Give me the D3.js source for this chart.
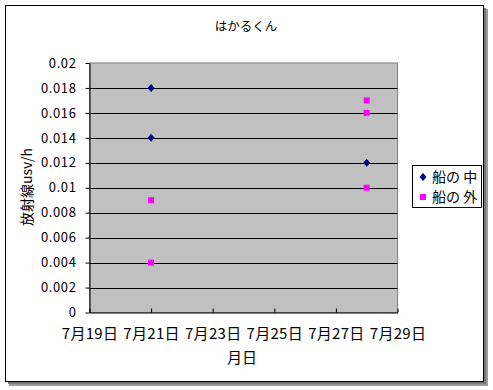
<!DOCTYPE html>
<html><head><meta charset="utf-8">
<script src="https://cdn.jsdelivr.net/npm/d3@7"></script>
<style>body{margin:0;background:#fff}svg{display:block}text{font-family:"Noto Sans CJK JP","Noto Sans",sans-serif;fill:#000}</style>
</head><body><div id="c"></div>
<script>
const title = "はかるくん";
const yLabel = "放射線usv/h";
const xLabel = "月日";
const seriesNames = ["船の 中", "船の 外"];
const insideDays = [21, 21, 28];
const insideValues = [0.018, 0.014, 0.012];
const outsideDays = [21, 21, 28, 28, 28];
const outsideValues = [0.009, 0.004, 0.017, 0.016, 0.010];
const xTicks = [19, 21, 23, 25, 27, 29];
const yTicks = [0, 0.002, 0.004, 0.006, 0.008, 0.01, 0.012, 0.014, 0.016, 0.018, 0.02];

const W = 493, H = 390;
const svg = d3.select("#c").append("svg").attr("width", W).attr("height", H);
// shadow
svg.append("rect").attr("x", 9).attr("y", 9).attr("width", 479).attr("height", 377).attr("fill", "#9a9a9a");
svg.append("rect").attr("x", 8).attr("y", 8).attr("width", 478).attr("height", 376).attr("fill", "#777");
svg.append("rect").attr("x", 5.5).attr("y", 5.5).attr("width", 478).attr("height", 376).attr("fill", "#fff").attr("stroke", "#000");

const L = 89.5, R = 397.5, T = 63, B = 312.5;
const x = d3.scaleLinear().domain([19, 29]).range([L, R]);
const y = d3.scaleLinear().domain([0, 0.02]).range([B, T]);

svg.append("rect").attr("x", L).attr("y", T).attr("width", R - L).attr("height", B - T)
  .attr("fill", "#c0c0c0").attr("stroke", "#808080");
svg.append("g").selectAll("line").data(yTicks.slice(1, -1)).join("line")
  .attr("x1", L).attr("x2", R).attr("y1", d => Math.round(y(d)) + 0.5).attr("y2", d => Math.round(y(d)) + 0.5)
  .attr("stroke", "#000");

const fmtY = d => d === 0 ? "0" : String(+d.toFixed(3));
const yAxis = svg.append("g").attr("transform", `translate(${L},0)`)
  .call(d3.axisLeft(y).tickValues(yTicks).tickSize(4).tickSizeOuter(0).tickFormat(fmtY).tickPadding(9));
const xAxis = svg.append("g").attr("transform", `translate(0,${B})`)
  .call(d3.axisBottom(x).tickValues(xTicks).tickSize(-4).tickSizeOuter(0).tickFormat(d => `7月${d}日`).tickPadding(16));
[yAxis, xAxis].forEach(g => {
  g.selectAll("path,line").attr("stroke", "#000");
});
yAxis.selectAll("text").attr("font-size", 13).attr("letter-spacing", 0.6);
xAxis.selectAll("text").attr("font-size", 15).attr("letter-spacing", 0.3);

// markers
const diamondType = { draw(ctx, size) { ctx.moveTo(0, -4); ctx.lineTo(3.5, 0); ctx.lineTo(0, 4); ctx.lineTo(-3.5, 0); ctx.closePath(); } };
const diamond = d3.symbol().type(diamondType);
svg.append("g").selectAll("path").data(insideDays.map((d, i) => [d, insideValues[i]])).join("path")
  .attr("d", diamond).attr("transform", d => `translate(${x(d[0])},${y(d[1])})`).attr("fill", "#000080");
svg.append("g").selectAll("rect").data(outsideDays.map((d, i) => [d, outsideValues[i]])).join("rect")
  .attr("x", d => x(d[0]) - 3).attr("y", d => y(d[1]) - 3).attr("width", 6).attr("height", 6).attr("fill", "#ff00ff");

svg.append("text").attr("x", 246).attr("y", 31).attr("text-anchor", "middle").attr("font-size", 12.5).text(title);
svg.append("text").attr("transform", "translate(32,187) rotate(-90)").attr("text-anchor", "middle").attr("font-size", 14).text(yLabel);
svg.append("text").attr("x", 242).attr("y", 363).attr("text-anchor", "middle").attr("font-size", 15).text(xLabel);

// legend
const lg = svg.append("g");
lg.append("rect").attr("x", 412.5).attr("y", 165.5).attr("width", 69).attr("height", 42).attr("fill", "#fff").attr("stroke", "#000");
lg.append("path").attr("d", diamond).attr("transform", "translate(423,177)").attr("fill", "#000080");
lg.append("rect").attr("x", 420).attr("y", 194).attr("width", 6).attr("height", 6).attr("fill", "#ff00ff");
lg.append("text").attr("x", 432).attr("y", 182).attr("font-size", 14).text(seriesNames[0]);
lg.append("text").attr("x", 432).attr("y", 202).attr("font-size", 14).text(seriesNames[1]);
</script></body></html>
